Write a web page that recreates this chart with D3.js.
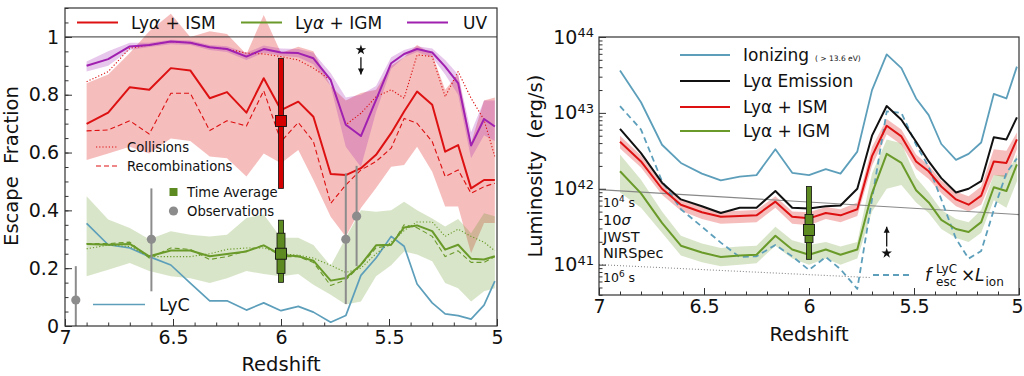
<!DOCTYPE html>
<html>
<head>
<meta charset="utf-8">
<script src="https://cdn.jsdelivr.net/npm/d3@7"></script>
<style>
body { margin: 0; background: #fff; }
text { font-family: "DejaVu Sans", sans-serif; fill: #111; }
</style>
</head>
<body>
<svg id="svg" width="1024" height="376"></svg>
<script>
// redshift grid shared by both panels
const z = [6.90, 6.80, 6.70, 6.61, 6.51, 6.42, 6.33, 6.25, 6.16, 6.08, 6.00, 5.92, 5.85,
           5.77, 5.70, 5.63, 5.56, 5.49, 5.43, 5.37, 5.30, 5.24, 5.18, 5.12, 5.06, 5.01];

// left panel: escape fractions
const uv   = [0.900, 0.923, 0.967, 0.972, 0.984, 0.980, 0.964, 0.958, 0.932, 0.958, 0.946, 0.944, 0.926,
              0.851, 0.696, 0.657, 0.782, 0.909, 0.941, 0.958, 0.946, 0.897, 0.840, 0.624, 0.716, 0.690];
const uvLo = [0.88, 0.90, 0.955, 0.965, 0.975, 0.972, 0.955, 0.948, 0.92, 0.945, 0.935, 0.93, 0.905,
              0.83, 0.62, 0.55, 0.74, 0.89, 0.93, 0.948, 0.93, 0.87, 0.80, 0.58, 0.66, 0.64];
const uvHi = [0.915, 0.95, 0.98, 0.98, 0.99, 0.988, 0.972, 0.968, 0.945, 0.97, 0.96, 0.958, 0.945,
              0.875, 0.79, 0.80, 0.83, 0.93, 0.955, 0.968, 0.96, 0.92, 0.87, 0.67, 0.78, 0.78];

const ism    = [0.699, 0.738, 0.826, 0.817, 0.892, 0.884, 0.788, 0.809, 0.738, 0.857, 0.747, 0.776, 0.724,
                0.526, 0.522, 0.546, 0.592, 0.667, 0.742, 0.811, 0.765, 0.603, 0.626, 0.476, 0.505, 0.505];
const ismRec = [0.675, 0.678, 0.710, 0.664, 0.805, 0.805, 0.676, 0.710, 0.692, 0.814, 0.638, 0.704, 0.638,
                0.424, 0.488, 0.540, 0.569, 0.615, 0.718, 0.701, 0.638, 0.517, 0.540, 0.459, 0.482, 0.494];
const ismCol = [0.845, 0.880, 0.961, 0.972, 0.984, 0.980, 0.964, 0.958, 0.944, 0.941, 0.932, 0.920, 0.892,
                0.851, 0.696, 0.736, 0.793, 0.817, 0.788, 0.938, 0.932, 0.793, 0.880, 0.788, 0.713, 0.586];
const ismLo  = [0.574, 0.597, 0.62, 0.597, 0.649, 0.64, 0.586, 0.58, 0.517, 0.597, 0.563, 0.609, 0.505,
                0.378, 0.309, 0.408, 0.477, 0.551, 0.557, 0.62, 0.534, 0.413, 0.413, 0.252, 0.356, 0.356];
const ismHi  = [0.84, 0.87, 0.944, 1.02, 1.08, 1.00, 1.02, 1.01, 0.94, 1.076, 0.944, 0.966, 0.95,
                0.83, 0.78, 0.806, 0.817, 0.90, 0.93, 0.972, 0.94, 0.817, 0.87, 0.633, 0.78, 0.79];

const igm    = [0.284, 0.281, 0.284, 0.241, 0.261, 0.261, 0.241, 0.249, 0.258, 0.279, 0.246, 0.241, 0.226,
                0.157, 0.166, 0.212, 0.279, 0.281, 0.341, 0.348, 0.328, 0.264, 0.281, 0.233, 0.230, 0.241];
const igmRec = [0.285, 0.285, 0.29, 0.235, 0.27, 0.265, 0.23, 0.24, 0.26, 0.28, 0.24, 0.24, 0.22,
                0.14, 0.16, 0.21, 0.27, 0.28, 0.35, 0.34, 0.31, 0.24, 0.26, 0.22, 0.22, 0.24];
const igmCol = [0.267, 0.28, 0.275, 0.24, 0.24, 0.24, 0.25, 0.265, 0.27, 0.27, 0.25, 0.245, 0.235,
                0.21, 0.185, 0.20, 0.25, 0.29, 0.33, 0.36, 0.36, 0.31, 0.335, 0.31, 0.29, 0.26];
const igmLo  = [0.172, 0.195, 0.218, 0.19, 0.172, 0.165, 0.149, 0.165, 0.19, 0.18, 0.172, 0.18, 0.143,
                0.108, 0.074, 0.085, 0.172, 0.21, 0.258, 0.247, 0.224, 0.149, 0.131, 0.085, 0.12, 0.131];
const igmHi  = [0.449, 0.368, 0.339, 0.30, 0.328, 0.316, 0.31, 0.316, 0.374, 0.386, 0.305, 0.305, 0.28,
                0.208, 0.305, 0.40, 0.395, 0.40, 0.43, 0.40, 0.372, 0.344, 0.37, 0.321, 0.39, 0.38];

const lyc = [0.355, 0.281, 0.27, 0.24, 0.211, 0.148, 0.087, 0.087, 0.055, 0.08, 0.053, 0.068, 0.048,
             0.013, 0.036, 0.175, 0.235, 0.31, 0.276, 0.145, 0.08, 0.042, 0.036, 0.024, 0.072, 0.155];

// observations
const obsZ  = [6.95, 6.60, 5.70, 5.65];
const obsF  = [0.09, 0.30, 0.30, 0.38];
const obsLo = [0.0, 0.12, 0.076, 0.207];
const obsHi = [0.207, 0.476, 0.528, 0.554];

// time averages (z = 6)
const avgZ = 6.0;
const avgIsm = [0.709, 0.476, 0.926];             // value, low, high
const avgIgm = [0.25, 0.151, 0.366, 0.182, 0.321]; // value, low, high, inner low, inner high
const avgLum = [41.457, 41.07, 42.03, 41.29, 41.66];

// right panel: log10 luminosity (erg/s)
const lumIon = [43.56, 43.14, 42.58, 42.34, 42.20, 42.11, 42.16, 42.18, 42.52, 42.21, 42.18, 42.26, 42.20,
                42.49, 43.30, 43.77, 43.59, 43.19, 42.97, 42.59, 42.38, 42.46, 42.61, 43.25, 43.19, 43.61];
const lumLya = [42.79, 42.47, 42.08, 41.86, 41.77, 41.68, 41.75, 41.75, 41.97, 41.75, 41.74, 41.77, 41.78,
                42.00, 42.70, 43.09, 42.91, 42.62, 42.36, 42.14, 41.95, 42.00, 42.10, 42.68, 42.65, 42.94];
const lumIsm = [42.62, 42.36, 42.00, 41.79, 41.69, 41.63, 41.64, 41.65, 41.83, 41.63, 41.61, 41.68, 41.65,
                41.73, 42.43, 42.83, 42.69, 42.36, 42.23, 42.03, 41.86, 41.79, 41.91, 42.36, 42.34, 42.65];
const lumIsmLo = [42.53, 42.28, 41.92, 41.71, 41.60, 41.54, 41.55, 41.56, 41.75, 41.54, 41.52, 41.60, 41.56,
                  41.64, 42.30, 42.72, 42.58, 42.26, 42.13, 41.94, 41.77, 41.70, 41.79, 42.18, 42.15, 42.52];
const lumIsmHi = [42.70, 42.44, 42.07, 41.86, 41.76, 41.70, 41.71, 41.72, 41.90, 41.70, 41.69, 41.76, 41.73,
                  41.82, 42.55, 42.92, 42.78, 42.45, 42.31, 42.11, 41.96, 41.90, 42.03, 42.52, 42.50, 42.74];
const lumIgm = [42.23, 41.94, 41.55, 41.25, 41.16, 41.10, 41.12, 41.13, 41.38, 41.20, 41.13, 41.20, 41.13,
                41.20, 41.94, 42.46, 42.34, 41.98, 41.82, 41.59, 41.47, 41.43, 41.56, 42.02, 41.97, 42.32];
const lumIgmLo = [41.95, 41.75, 41.42, 41.12, 41.03, 40.98, 41.00, 41.02, 41.25, 41.08, 41.00, 41.08, 41.00,
                  41.08, 41.70, 42.00, 42.05, 41.82, 41.68, 41.47, 41.35, 41.30, 41.42, 41.85, 41.75, 42.10];
const lumIgmHi = [42.45, 42.12, 41.70, 41.38, 41.28, 41.22, 41.24, 41.25, 41.50, 41.32, 41.26, 41.30, 41.24,
                  41.30, 42.20, 42.65, 42.60, 42.15, 41.95, 41.72, 41.60, 41.56, 41.72, 42.18, 42.18, 42.45];
const lumEsc = [43.09, 42.78, 42.10, 41.73, 41.50, 41.29, 41.10, 41.11, 41.26, 41.11, 40.93, 41.10, 40.94,
                40.68, 41.86, 43.02, 43.00, 42.58, 42.29, 41.86, 41.34, 41.08, 41.18, 41.72, 42.21, 42.40];

// JWST NIRSpec 10 sigma sensitivity lines [z, log L]
const jwst1e4 = [[7.0, 41.99], [5.0, 41.66]];
const jwst1e6 = [[7.0, 41.00], [5.71, 40.83]];

const xTicks = [7, 6.5, 6, 5.5, 5];
const fTicks = [0, 0.2, 0.4, 0.6, 0.8, 1];
const lTicks = [1e41, 1e42, 1e43, 1e44];

const C = { red: "#dd1111", green: "#6a9a2a", purple: "#a020b0", blue: "#5d9fbb", grey: "#8c8c8c" };

const svg = d3.select("#svg");
const xL = d3.scaleLinear().domain([7, 5]).range([65, 497]);
const yL = d3.scaleLinear().domain([0, 1.1]).range([326, 8]);
const xR = d3.scaleLinear().domain([7, 5]).range([599, 1019]);
const yR = d3.scaleLog().domain([Math.pow(10, 40.6), 1e44]).range([295, 37]);
const yLog = v => yR(Math.pow(10, v));

const defs = svg.append("defs");
defs.append("clipPath").attr("id", "clipL").append("rect")
    .attr("x", 65).attr("y", 8).attr("width", 432).attr("height", 318);
defs.append("clipPath").attr("id", "clipR").append("rect")
    .attr("x", 599).attr("y", 37).attr("width", 420).attr("height", 258);

const gL = svg.append("g").attr("clip-path", "url(#clipL)");
const gR = svg.append("g").attr("clip-path", "url(#clipR)");

function band(g, x, y, lo, hi, color, op) {
    g.append("path")
        .attr("d", d3.area().x((d, i) => x(z[i])).y0((d, i) => y(lo[i])).y1(d => y(d))(hi))
        .attr("fill", color).attr("fill-opacity", op).attr("stroke", "none");
}
function line(g, x, y, vals, color, width, dash) {
    g.append("path")
        .attr("d", d3.line().x((d, i) => x(z[i])).y(d => y(d))(vals))
        .attr("fill", "none").attr("stroke", color).attr("stroke-width", width)
        .attr("stroke-dasharray", dash || null).attr("stroke-linejoin", "round");
}

// ---------- left panel ----------
band(gL, xL, yL, ismLo, ismHi, C.red, 0.28);
band(gL, xL, yL, igmLo, igmHi, C.green, 0.26);
band(gL, xL, yL, uvLo, uvHi, C.purple, 0.25);

gL.append("line").attr("x1", 65).attr("x2", 497).attr("y1", yL(1)).attr("y2", yL(1))
    .attr("stroke", "#333").attr("stroke-width", 1);

line(gL, xL, yL, lyc, C.blue, 1.7);
line(gL, xL, yL, ismCol, C.red, 1.1, "1.2,2");
line(gL, xL, yL, ismRec, C.red, 1.1, "5,3");
line(gL, xL, yL, igmCol, C.green, 1.1, "1.2,2");
line(gL, xL, yL, igmRec, C.green, 1.1, "5,3");
line(gL, xL, yL, ism, C.red, 2);
line(gL, xL, yL, igm, C.green, 2);
line(gL, xL, yL, uv, C.purple, 2);

// observations
obsZ.forEach((d, i) => {
    gL.append("line").attr("x1", xL(d)).attr("x2", xL(d))
        .attr("y1", yL(obsLo[i])).attr("y2", yL(obsHi[i]))
        .attr("stroke", C.grey).attr("stroke-width", 2);
    gL.append("circle").attr("cx", xL(d)).attr("cy", yL(obsF[i])).attr("r", 4.6).attr("fill", C.grey);
});

function avgMark(g, x, y, vals, color) {
    const cx = x(avgZ);
    g.append("rect").attr("x", cx - 2.5).attr("width", 5)
        .attr("y", y(vals[2])).attr("height", y(vals[1]) - y(vals[2]))
        .attr("fill", color).attr("stroke", "#111").attr("stroke-width", 0.8);
    if (vals.length > 3) {
        g.append("rect").attr("x", cx - 4).attr("width", 8)
            .attr("y", y(vals[4])).attr("height", y(vals[3]) - y(vals[4]))
            .attr("fill", color).attr("stroke", "#111").attr("stroke-width", 0.8);
    }
    g.append("rect").attr("x", cx - 5.5).attr("y", y(vals[0]) - 5.5).attr("width", 11).attr("height", 11)
        .attr("fill", color).attr("stroke", "#111").attr("stroke-width", 0.9);
}
avgMark(gL, xL, yL, avgIsm, "#d40000");
avgMark(gL, xL, yL, avgIgm, "#5e8a22");

function starArrow(g, cx, yStar, yA, yB) {
    g.append("path").attr("d", d3.symbol(d3.symbolStar, 34)())
        .attr("transform", `translate(${cx},${yStar})`).attr("fill", "#111");
    g.append("line").attr("x1", cx).attr("x2", cx).attr("y1", yA).attr("y2", yB)
        .attr("stroke", "#111").attr("stroke-width", 1.3);
    const dir = yB > yA ? 1 : -1;
    g.append("path")
        .attr("d", `M${cx - 3},${yB - dir * 6}L${cx},${yB}L${cx + 3},${yB - dir * 6}Z`)
        .attr("fill", "#111");
}
starArrow(svg, xL(5.63), yL(0.955), yL(0.93), yL(0.87));

// ---------- right panel ----------
band(gR, xR, yLog, lumIsmLo, lumIsmHi, C.red, 0.28);
band(gR, xR, yLog, lumIgmLo, lumIgmHi, C.green, 0.26);

const jl = d3.line().x(d => xR(d[0])).y(d => yLog(d[1]));
gR.append("path").attr("d", jl(jwst1e4)).attr("fill", "none").attr("stroke", "#888").attr("stroke-width", 1.2);
gR.append("path").attr("d", jl(jwst1e6)).attr("fill", "none").attr("stroke", "#888")
    .attr("stroke-width", 1.1).attr("stroke-dasharray", "1,2");

line(gR, xR, yLog, lumEsc, C.blue, 1.8, "6,4");
line(gR, xR, yLog, lumIon, C.blue, 1.8);
line(gR, xR, yLog, lumLya, "#111", 2);
line(gR, xR, yLog, lumIsm, C.red, 2);
line(gR, xR, yLog, lumIgm, C.green, 2);

avgMark(gR, xR, yLog, avgLum, "#5e8a22");
starArrow(svg, xR(5.63), yLog(41.15), yLog(41.24), yLog(41.50));

// ---------- axes ----------
function styleAxis(sel, size) {
    sel.select(".domain").remove();
    sel.selectAll(".tick line").attr("stroke", "#333").attr("stroke-width", 1);
    sel.attr("font-size", size).attr("font-family", "DejaVu Sans, sans-serif");
    sel.selectAll(".tick text").attr("fill", "#111");
}

function xAxes(x, y0, edgeShift) {
    svg.append("g").attr("transform", `translate(0,${y0})`)
        .call(d3.axisBottom(x).tickValues(xTicks).tickFormat(d3.format("")).tickSizeInner(-7).tickSizeOuter(0).tickPadding(5))
        .call(s => styleAxis(s, 19))
        .call(s => s.selectAll(".tick text").filter(d => d === 5).attr("dx", edgeShift));
    svg.append("g").attr("transform", `translate(0,${y0})`)
        .call(d3.axisBottom(x).tickValues(d3.range(50, 71).map(d => d / 10)).tickSizeInner(-3.5).tickSizeOuter(0).tickFormat(""))
        .call(s => styleAxis(s, 19));
}
xAxes(xL, 326, 0);
xAxes(xR, 295, -2);

svg.append("g").attr("transform", "translate(65,0)")
    .call(d3.axisLeft(yL).tickValues(fTicks).tickFormat(d => d === 0 ? "0" : d === 1 ? "1" : d3.format(".1f")(d))
        .tickSizeInner(-7).tickSizeOuter(0).tickPadding(6))
    .call(s => styleAxis(s, 19));
svg.append("g").attr("transform", "translate(65,0)")
    .call(d3.axisLeft(yL).tickValues(d3.range(0, 23).map(d => d * 0.05)).tickSizeInner(-3.5).tickSizeOuter(0).tickFormat(""))
    .call(s => styleAxis(s, 19));

const minorLog = [];
[40, 41, 42, 43].forEach(n => d3.range(2, 10).forEach(k => {
    const v = k * Math.pow(10, n);
    if (v > Math.pow(10, 40.6) && v < 1e44) minorLog.push(v);
}));
svg.append("g").attr("transform", "translate(599,0)")
    .call(d3.axisLeft(yR).tickValues(lTicks).tickFormat("").tickSizeInner(-7).tickSizeOuter(0).tickPadding(5))
    .call(s => styleAxis(s, 19))
    .call(s => s.selectAll(".tick text").each(function (d) {
        const t = d3.select(this).text(null);
        t.append("tspan").text("10");
        t.append("tspan").attr("dy", "-0.48em").attr("font-size", 13).text(Math.round(Math.log10(d)));
    }));
svg.append("g").attr("transform", "translate(599,0)")
    .call(d3.axisLeft(yR).tickValues(minorLog).tickFormat("").tickSizeInner(-3.5).tickSizeOuter(0))
    .call(s => styleAxis(s, 19));

// frames
svg.append("rect").attr("x", 65).attr("y", 8).attr("width", 432).attr("height", 318)
    .attr("fill", "none").attr("stroke", "#333").attr("stroke-width", 1.2);
svg.append("rect").attr("x", 599).attr("y", 37).attr("width", 420).attr("height", 258)
    .attr("fill", "none").attr("stroke", "#333").attr("stroke-width", 1.2);

// axis titles
svg.append("text").attr("x", 281).attr("y", 371).attr("text-anchor", "middle").attr("font-size", 19.5).text("Redshift");
svg.append("text").attr("x", 809).attr("y", 341).attr("text-anchor", "middle").attr("font-size", 19.5).text("Redshift");
svg.append("text").attr("transform", "translate(18,166) rotate(-90)").attr("text-anchor", "middle")
    .attr("font-size", 19.5).style("white-space", "pre").text("Escape  Fraction");
svg.append("text").attr("transform", "translate(542,166) rotate(-90)").attr("text-anchor", "middle")
    .attr("font-size", 19.5).style("white-space", "pre").text("Luminosity  (erg/s)");

// ---------- legends ----------
function legLine(x1, x2, y, color, width, dash) {
    svg.append("line").attr("x1", x1).attr("x2", x2).attr("y1", y).attr("y2", y)
        .attr("stroke", color).attr("stroke-width", width).attr("stroke-dasharray", dash || null);
}
function lyaText(x, y, rest, size, italic) {
    const t = svg.append("text").attr("x", x).attr("y", y).attr("font-size", size).style("white-space", "pre");
    t.append("tspan").text("Ly");
    t.append("tspan").attr("font-style", italic ? "italic" : null).text("α");
    t.append("tspan").text(rest);
    return t;
}

// left top legend
legLine(77, 118, 22.5, C.red, 2);
lyaText(131, 28.5, " + ISM", 17, true);
legLine(241, 282, 22.5, C.green, 2);
lyaText(295, 28.5, " + IGM", 17, true);
legLine(407, 448, 22.5, C.purple, 2);
svg.append("text").attr("x", 463).attr("y", 28.5).attr("font-size", 17).text("UV");

// left inner legend
legLine(96, 118, 147, C.red, 1.1, "1.2,2");
svg.append("text").attr("x", 127).attr("y", 152).attr("font-size", 13.2).text("Collisions");
legLine(96, 118, 166, C.red, 1.1, "5,3");
svg.append("text").attr("x", 127).attr("y", 171).attr("font-size", 13.2).text("Recombinations");
svg.append("rect").attr("x", 169.5).attr("y", 188).attr("width", 8).attr("height", 8).attr("fill", "#5e8a22");
svg.append("text").attr("x", 187).attr("y", 197).attr("font-size", 13.2).text("Time Average");
svg.append("circle").attr("cx", 173.5).attr("cy", 211).attr("r", 4.6).attr("fill", C.grey);
svg.append("text").attr("x", 187).attr("y", 215.5).attr("font-size", 13.2).text("Observations");
legLine(93, 145, 304.5, C.blue, 1.7);
svg.append("text").attr("x", 159).attr("y", 310.5).attr("font-size", 17.5).text("LyC");

// right legend
legLine(680, 730, 55, C.blue, 1.8);
svg.append("text").attr("x", 743).attr("y", 61).attr("font-size", 17).text("Ionizing");
svg.append("text").attr("x", 815).attr("y", 61).attr("font-size", 7.5).style("white-space", "pre").text("( > 13.6 eV)");
legLine(680, 730, 81, "#111", 2);
lyaText(743, 87, " Emission", 17, false);
legLine(680, 730, 107, C.red, 2);
lyaText(743, 113, " + ISM", 17, false);
legLine(680, 730, 131, C.green, 2);
lyaText(743, 137, " + IGM", 17, false);

// JWST annotation
const j1 = svg.append("text").attr("x", 603).attr("y", 207).attr("font-size", 12.5);
j1.append("tspan").text("10");
j1.append("tspan").attr("dy", -5).attr("font-size", 9).text("4");
j1.append("tspan").attr("dy", 5).text(" s");
const j2 = svg.append("text").attr("x", 603).attr("y", 225).attr("font-size", 14.5);
j2.append("tspan").text("10");
j2.append("tspan").attr("font-style", "italic").text("σ");
svg.append("text").attr("x", 603).attr("y", 241.5).attr("font-size", 14.5).text("JWST");
svg.append("text").attr("x", 603).attr("y", 257.5).attr("font-size", 14.5).text("NIRSpec");
const j3 = svg.append("text").attr("x", 603).attr("y", 282).attr("font-size", 12.5);
j3.append("tspan").text("10");
j3.append("tspan").attr("dy", -5).attr("font-size", 9).text("6");
j3.append("tspan").attr("dy", 5).text(" s");

// f_esc x L_ion legend
legLine(873, 912, 275, C.blue, 1.8, "6,4");
svg.append("text").attr("x", 925).attr("y", 281).attr("font-size", 17).attr("font-style", "italic").text("f");
svg.append("text").attr("x", 936).attr("y", 273).attr("font-size", 12).text("LyC");
svg.append("text").attr("x", 936).attr("y", 285.5).attr("font-size", 12).text("esc");
svg.append("text").attr("x", 961).attr("y", 281).attr("font-size", 17).text("×");
svg.append("text").attr("x", 975).attr("y", 281).attr("font-size", 17).attr("font-style", "italic").text("L");
svg.append("text").attr("x", 985.5).attr("y", 285.5).attr("font-size", 12).text("ion");
</script>
</body>
</html>
